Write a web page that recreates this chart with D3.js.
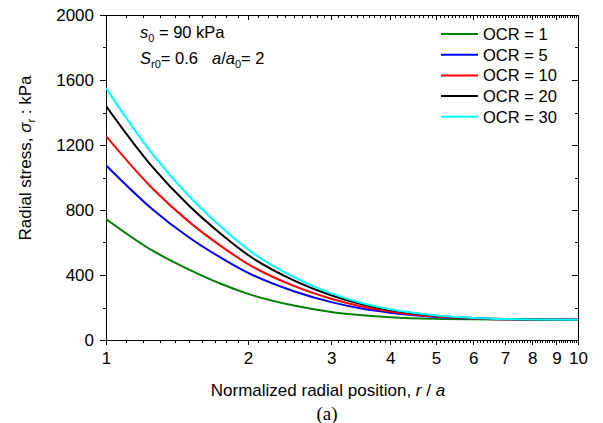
<!DOCTYPE html>
<html>
<head>
<meta charset="utf-8">
<script src="https://d3js.org/d3.v7.min.js"></script>
<style>
  body { margin: 0; background: #fff; }
  svg { font-family: "Liberation Sans", Arial, sans-serif; }
  .axis path, .axis line { stroke: #000; stroke-width: 1; shape-rendering: crispEdges; }
  .axis text { font-size: 17px; fill: #000; font-family: "Liberation Sans", Arial, sans-serif; }
</style>
</head>
<body>
<div id="chart"></div>
<script>
// r/a sample positions and radial stress (kPa)
const rPos = [1, 1.25, 1.5, 1.75, 2, 2.5, 3, 3.5, 4, 5, 6, 7, 8, 10];
const ocr1  = [745, 553, 433, 346, 284, 212, 173, 152, 140, 130, 127, 126, 125, 125];
const ocr5  = [1075, 808, 631, 507, 413, 300, 233, 192, 168, 142, 132, 128, 126, 125];
const ocr10 = [1255, 937, 727, 579, 467, 333, 254, 205, 176, 145, 133, 128, 126, 125];
const ocr20 = [1440, 1070, 826, 654, 523, 367, 275, 218, 184, 149, 135, 129, 126, 125];
const ocr30 = [1550, 1150, 885, 698, 557, 387, 287, 226, 189, 151, 136, 129, 126, 125];

const seriesNames = ["OCR = 1", "OCR = 5", "OCR = 10", "OCR = 20", "OCR = 30"];
const seriesColors = ["#008000", "#0000ff", "#ff0000", "#000000", "#00ffff"];
const seriesValues = [ocr1, ocr5, ocr10, ocr20, ocr30];

const xTicks = [1, 2, 3, 4, 5, 6, 7, 8, 9, 10];
const yTicks = [0, 400, 800, 1200, 1600, 2000];

const W = 603, H = 423;
const margin = { top: 15, right: 25, bottom: 83, left: 106 };
const width = W - margin.left - margin.right;
const height = H - margin.top - margin.bottom;

const svg = d3.select("#chart").append("svg")
  .attr("width", W).attr("height", H);

const g = svg.append("g")
  .attr("transform", `translate(${margin.left},${margin.top})`);

const x = d3.scaleLog().domain([1, 10]).range([0, width]);
const y = d3.scaleLinear().domain([0, 2000]).range([height, 0]);

// minor tick positions
const xMinor = d3.range(11, 100).map(d => d / 10).filter(d => !xTicks.includes(d));
const yMinor = d3.range(200, 2000, 400);

// major axes
g.append("g").attr("class", "axis")
  .attr("transform", `translate(0,${height})`)
  .call(d3.axisBottom(x).tickValues(xTicks).tickFormat(d3.format("d")).tickSize(5).tickPadding(7));
g.append("g").attr("class", "axis")
  .call(d3.axisTop(x).tickValues(xTicks).tickFormat(() => "").tickSizeInner(-5).tickSizeOuter(0));
g.append("g").attr("class", "axis")
  .call(d3.axisLeft(y).tickValues(yTicks).tickFormat(d3.format("d")).tickSize(6).tickPadding(6));
g.append("g").attr("class", "axis")
  .attr("transform", `translate(${width},0)`)
  .call(d3.axisRight(y).tickValues(yTicks).tickFormat(() => "").tickSizeInner(-6).tickSizeOuter(0));

// minor ticks as a path
const minorPath = [];
xMinor.forEach(d => {
  const px = Math.round(x(d)) + 0.5;
  minorPath.push(`M${px},${height}v3`, `M${px},0v3`);
});
yMinor.forEach(d => {
  const py = Math.round(y(d)) + 0.5;
  minorPath.push(`M-3,${py}h3`, `M${width - 3},${py}h3`);
});
g.append("path")
  .attr("d", minorPath.join(""))
  .attr("fill", "none")
  .attr("stroke", "#000")
  .attr("stroke-width", 1);

// curves
const line = d3.line()
  .x(d => x(d[0]))
  .y(d => y(d[1]))
  .curve(d3.curveMonotoneX);

svg.append("clipPath").attr("id", "clip")
  .append("rect").attr("width", width).attr("height", height);

seriesValues.forEach((vals, i) => {
  g.append("path")
    .datum(rPos.map((r, k) => [r, vals[k]]))
    .attr("clip-path", "url(#clip)")
    .attr("fill", "none")
    .attr("stroke", seriesColors[i])
    .attr("stroke-width", 2)
    .attr("d", line);
});

// legend
const legend = g.append("g").attr("transform", `translate(${335},${19})`);
seriesNames.forEach((name, i) => {
  const ly = i * 20.7;
  legend.append("line")
    .attr("x1", 0).attr("x2", 37).attr("y1", ly).attr("y2", ly)
    .attr("stroke", seriesColors[i]).attr("stroke-width", 2);
  legend.append("text")
    .attr("x", 42).attr("y", ly + 6)
    .attr("font-size", 16.5)
    .text(name);
});

// annotations
const ann1 = g.append("text").attr("x", 34).attr("y", 23).attr("font-size", 16.5);
ann1.append("tspan").attr("font-style", "italic").text("s");
ann1.append("tspan").attr("font-size", 11).attr("dy", 4).text("0");
ann1.append("tspan").attr("dy", -4).text(" = 90 kPa");

const ann2 = g.append("text").attr("x", 34).attr("y", 49).attr("font-size", 16.5);
ann2.append("tspan").attr("font-style", "italic").text("S");
ann2.append("tspan").attr("font-size", 11).attr("dy", 4).text("r0");
ann2.append("tspan").attr("dy", -4).text("= 0.6");
ann2.append("tspan").attr("x", 106).attr("font-style", "italic").text("a");
ann2.append("tspan").text("/");
ann2.append("tspan").attr("font-style", "italic").text("a");
ann2.append("tspan").attr("font-size", 11).attr("dy", 4).text("0");
ann2.append("tspan").attr("dy", -4).text("= 2");

// axis titles
const yt = svg.append("text")
  .attr("transform", `translate(31,${158}) rotate(-90)`)
  .attr("text-anchor", "middle")
  .attr("font-size", 17);
yt.append("tspan").text("Radial stress, ");
yt.append("tspan").attr("font-style", "italic").text("σ");
yt.append("tspan").attr("font-size", 11).attr("dy", 4).text("r");
yt.append("tspan").attr("dy", -4).text(" : kPa");

const xt = svg.append("text")
  .attr("x", 328).attr("y", 396)
  .attr("text-anchor", "middle")
  .attr("font-size", 17);
xt.append("tspan").text("Normalized radial position, ");
xt.append("tspan").attr("font-style", "italic").text("r");
xt.append("tspan").text(" / ");
xt.append("tspan").attr("font-style", "italic").text("a");

svg.append("text")
  .attr("x", 327).attr("y", 420)
  .attr("text-anchor", "middle")
  .attr("font-family", "Liberation Serif, Times New Roman, serif")
  .attr("font-size", 19)
  .text("(a)");
</script>
</body>
</html>
